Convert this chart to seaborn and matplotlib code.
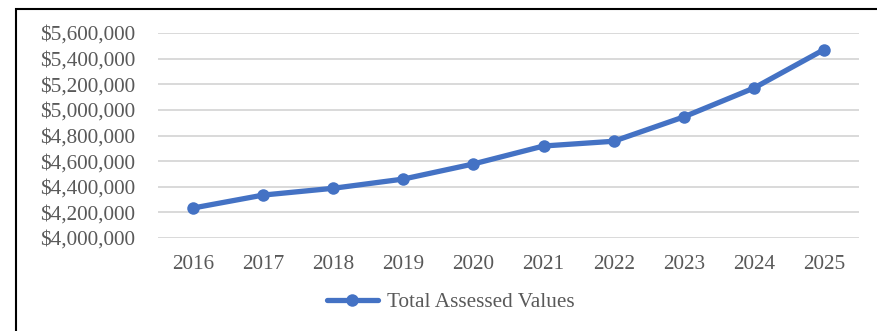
import matplotlib
matplotlib.use("Agg")
import matplotlib.pyplot as plt
import matplotlib.ticker as mticker
from matplotlib.patches import Rectangle
import pandas as pd
import seaborn as sns

# Total assessed values by year
years = ["2016", "2017", "2018", "2019", "2020", "2021", "2022", "2023", "2024", "2025"]
assessed = [4234000, 4335000, 4388000, 4460000, 4578000, 4718000, 4755000, 4945000, 5170000, 5470000]
series_name = "Total Assessed Values"
y_ticks = [4000000, 4200000, 4400000, 4600000, 4800000, 5000000, 5200000, 5400000, 5600000]

df = pd.DataFrame({"Year": years, "Value": assessed, "Series": series_name})

sns.set_theme(style="white")
plt.rcParams["font.family"] = ["Liberation Serif", "DejaVu Serif"]

text_color = "#595959"
line_color = "#4472C4"
fs = 15.3

fig = plt.figure(figsize=(8.78, 3.31), dpi=100)
ax = fig.add_axes([158 / 878, 1 - 238 / 331, 701 / 878, 205 / 331])

sns.lineplot(data=df, x="Year", y="Value", hue="Series", palette=[line_color],
             marker="o", markersize=9, markeredgewidth=0, linewidth=3.8,
             sort=False, ax=ax, legend=True)

ax.set_xlim(-0.5, len(years) - 0.5)
ax.set_ylim(y_ticks[0], y_ticks[-1])
ax.set_yticks(y_ticks)
ax.yaxis.set_major_formatter(mticker.FuncFormatter(lambda v, p: f"${v:,.0f}"))
ax.grid(axis="y", color="#d9d9d9", linewidth=1.4)
ax.grid(axis="x", visible=False)
ax.set_axisbelow(True)
for s in ax.spines.values():
    s.set_visible(False)
ax.set_xlabel("")
ax.set_ylabel("")
ax.tick_params(axis="y", length=0, pad=16.5, labelsize=fs, labelcolor=text_color)
ax.tick_params(axis="x", length=0, pad=12, labelsize=fs, labelcolor=text_color)

handles, labels = ax.get_legend_handles_labels()
ax.get_legend().remove()
fig.legend(handles, labels, loc="center", bbox_to_anchor=(451 / 878, 1 - 302 / 331),
           frameon=False, fontsize=fs, labelcolor=text_color,
           handlelength=2.4, handletextpad=0.45)

# Outer border of the chart area
fig.patches.append(Rectangle((16.5 / 878, -0.1), 1.2, 1.1 - 8.5 / 331,
                             transform=fig.transFigure, fill=False,
                             edgecolor="black", linewidth=1.5))

fig.savefig("out.png", dpi=100, facecolor="white")
